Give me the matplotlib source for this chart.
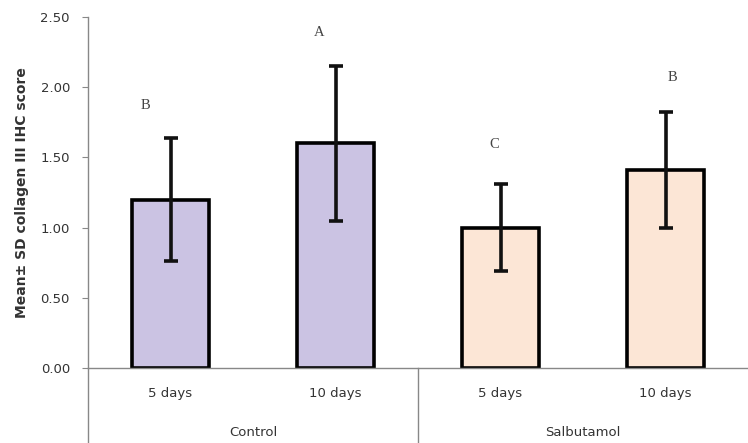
import numpy as np
import matplotlib.pyplot as plt
from matplotlib.lines import Line2D

# Collagen III IHC scores, mean and SD per group
groups = ["Control", "Salbutamol"]
days = ["5 days", "10 days", "5 days", "10 days"]
means = [1.20, 1.60, 1.00, 1.41]
sds = [0.44, 0.55, 0.31, 0.41]
letters = ["B", "A", "C", "B"]
letter_y = [1.87, 2.39, 1.59, 2.07]
colors = ["#cbc3e3", "#cbc3e3", "#fce6d6", "#fce6d6"]

plt.rcParams['font.family'] = ['DejaVu Sans']

fig = plt.figure(figsize=(7.48, 4.43), dpi=100)
ax = fig.add_axes([88/748, 1-368/443, 1-88/748, 351/443])

x = np.arange(len(means))
ax.bar(x, means, width=0.47, color=colors, edgecolor='black', linewidth=2.6, zorder=2)
ax.errorbar(x, means, yerr=sds, fmt='none', ecolor='#111111', elinewidth=2.6,
            capsize=5, capthick=2.6, zorder=3)

# significance letters, set a little off the bar centres
shift = [-0.15, -0.10, -0.04, 0.04]
for xi, dx, lab, ly in zip(x, shift, letters, letter_y):
    ax.text(xi + dx, ly, lab, ha='center', va='center',
            family='Liberation Serif', fontsize=10.5, color='#444444')

ax.set_xlim(-0.5, 3.5)
ax.set_ylim(0, 2.5)
yt = np.arange(0, 2.51, 0.5)
ax.set_yticks(yt)
ax.set_yticklabels([f"{v:.2f}" for v in yt], fontsize=9.5, color='#333333')
ax.set_xticks(x)
ax.set_xticklabels(days, fontsize=9.5, color='#333333')
ax.tick_params(axis='x', length=0, pad=14)
ax.tick_params(axis='y', length=4, color='#888888', pad=9)
ax.set_ylabel("Mean± SD collagen III IHC score", fontsize=10, fontweight='bold',
              color='#333333', labelpad=8)

for s in ['top', 'right']:
    ax.spines[s].set_visible(False)
for s in ['left', 'bottom']:
    ax.spines[s].set_color('#888888')
    ax.spines[s].set_linewidth(1.0)

# group separators below the axis
tr = ax.get_xaxis_transform()
for xs in [-0.5, 1.5]:
    ax.add_line(Line2D([xs, xs], [0, -0.22], transform=tr, color='#888888',
                       linewidth=1.0, clip_on=False))
for gi, g in enumerate(groups):
    ax.text(gi * 2 + 0.5, -0.185, g, transform=tr, ha='center', va='center',
            fontsize=9.5, color='#333333')

fig.savefig("out.png", dpi=100)
